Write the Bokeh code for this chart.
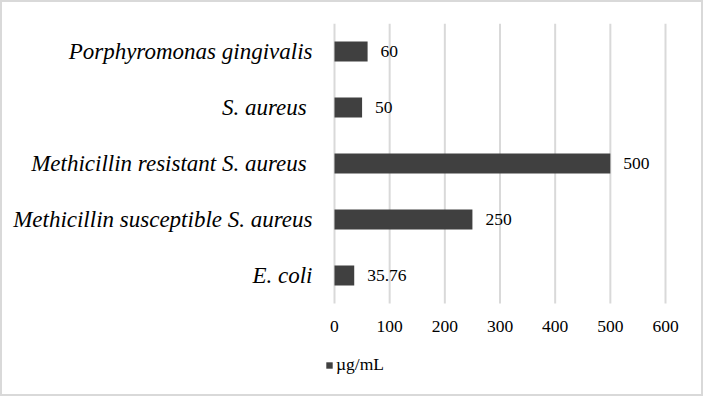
from bokeh.plotting import figure
from bokeh.models import ColumnDataSource, Range1d, FixedTicker, LabelSet, Legend, LegendItem
from bokeh.embed import file_html
from bokeh.resources import INLINE

categories = ["E. coli", "Methicillin susceptible S. aureus", "Methicillin  resistant S. aureus",
              "S. aureus ", "Porphyromonas gingivalis"]
values = [35.76, 250, 500, 50, 60]
value_labels = ["35.76", "250", "500", "50", "60"]
x_ticks = [0, 100, 200, 300, 400, 500, 600]
series_name = "µg/mL"

positions = list(range(len(categories)))
n = len(categories)
src = ColumnDataSource(dict(pos=positions, cat=categories, val=values, lab=value_labels))
grid_src = ColumnDataSource(dict(x=x_ticks, y0=[-0.5] * len(x_ticks), y1=[n - 0.5] * len(x_ticks)))

p = figure(frame_width=368, frame_height=362, output_backend="svg", toolbar_location=None,
           x_range=Range1d(-21.75, 645.3), y_range=Range1d(-1.964, n - 0.5),
           min_border_left=320, min_border_right=11, min_border_top=21, min_border_bottom=9,
           styles={"border": "2px solid #d9d9d9"})
p.outline_line_color = None
p.background_fill_color = "white"
p.border_fill_color = "white"
p.xgrid.grid_line_color = None
p.ygrid.grid_line_color = None

p.segment(x0="x", x1="x", y0="y0", y1="y1", source=grid_src, line_color="#d9d9d9", line_width=2)
r = p.hbar(y="pos", right="val", left=0, height=0.355, source=src, fill_color="#404040", line_color=None)

FONT = "Liberation Serif"
p.xaxis.ticker = FixedTicker(ticks=x_ticks)
p.xaxis.fixed_location = -0.5
p.xaxis.axis_line_color = None
p.xaxis.major_tick_line_color = None
p.xaxis.minor_tick_line_color = None
p.xaxis.major_tick_out = 0
p.xaxis.major_label_standoff = 17
p.xaxis.major_label_text_font = FONT
p.xaxis.major_label_text_font_size = "17.5px"
p.xaxis.major_label_text_color = "#000000"

p.yaxis.ticker = FixedTicker(ticks=positions)
p.yaxis.major_label_overrides = {i: c for i, c in zip(positions, categories)}
p.yaxis.axis_line_color = None
p.yaxis.major_tick_line_color = None
p.yaxis.minor_tick_line_color = None
p.yaxis.major_tick_out = 0
p.yaxis.major_label_standoff = 10
p.yaxis.major_label_text_font = FONT
p.yaxis.major_label_text_font_style = "italic"
p.yaxis.major_label_text_font_size = "23px"
p.yaxis.major_label_text_color = "#000000"

labels = LabelSet(x="val", y="pos", text="lab", source=src, x_offset=13, text_baseline="middle",
                  text_font=FONT, text_font_size="17.5px", text_color="#000000")
p.add_layout(labels)

legend = Legend(items=[LegendItem(label=series_name, renderers=[r])], location=(3, 10),
                orientation="horizontal", padding=0, margin=0, spacing=0,
                glyph_width=8, glyph_height=8, label_standoff=3, label_height=17,
                label_text_font=FONT, label_text_font_size="17.5px", label_text_color="#000000",
                border_line_color=None, background_fill_alpha=0)
p.add_layout(legend, "center")

open("out.html", "w").write(file_html(p, INLINE))
